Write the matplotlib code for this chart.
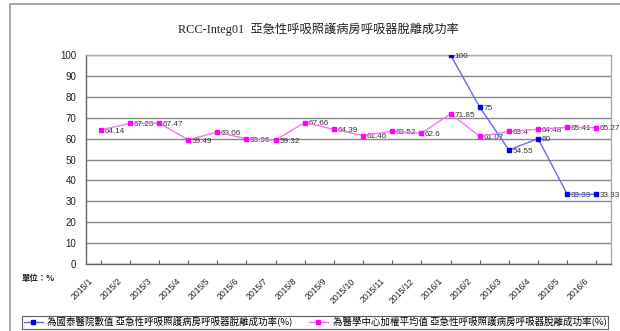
import matplotlib
matplotlib.use("Agg")
import matplotlib.pyplot as plt
import matplotlib.transforms as mtransforms
from matplotlib.patches import Rectangle
import numpy as np

plt.rcParams['font.family'] = ['Liberation Sans', 'Noto Sans CJK TC']

categories = ["2015/1", "2015/2", "2015/3", "2015/4", "2015/5", "2015/6", "2015/7",
              "2015/8", "2015/9", "2015/10", "2015/11", "2015/12", "2016/1", "2016/2",
              "2016/3", "2016/4", "2016/5", "2016/6"]
hospital = [None] * 12 + [100, 75, 54.55, 60, 33.33, 33.33]
center_avg = [64.14, 67.23, 67.47, 59.49, 63.06, 59.96, 59.32, 67.66, 64.39, 61.46,
              63.52, 62.6, 71.85, 61.07, 63.4, 64.48, 65.41, 65.27]
hospital_label = "為國泰醫院數值 亞急性呼吸照護病房呼吸器脫離成功率(%)"
center_label = "為醫學中心加權平均值 亞急性呼吸照護病房呼吸器脫離成功率(%)"
title = "RCC-Integ01  亞急性呼吸照護病房呼吸器脫離成功率"
yticks = [0, 10, 20, 30, 40, 50, 60, 70, 80, 90, 100]

W, H = 620, 331
fig = plt.figure(figsize=(W / 100, H / 100), dpi=100)
fig.patch.set_facecolor('white')

# outer frame
fig.patches.append(Rectangle((10 / W, -0.05), 611 / W, 1.05 - 4 / H, transform=fig.transFigure,
                             fill=False, edgecolor='#9a9a9a', linewidth=1.2, clip_on=False))

ax = fig.add_axes([86 / W, 1 - 264 / H, (611 - 86) / W, (264 - 55) / H])
x = np.arange(len(categories))

h_x = [i for i, v in enumerate(hospital) if v is not None]
h_y = [v for v in hospital if v is not None]

ax.plot(h_x, h_y, color='#6a6af0', linewidth=1.0, marker='s', markersize=3.2,
        markerfacecolor='#0000ee', markeredgecolor='#0000ee', label=hospital_label, zorder=5)
ax.plot(x, center_avg, color='#f07af0', linewidth=1.0, marker='s', markersize=3.2,
        markerfacecolor='#ff00ff', markeredgecolor='#ff00ff', label=center_label, zorder=5)

def fmt(v):
    return f"{v:.2f}".rstrip('0').rstrip('.')

for xi, v in zip(h_x, h_y):
    ax.annotate(fmt(v), (xi, v), xytext=(2.6, -1), textcoords='offset points',
                ha='left', va='center', fontsize=5.9, color='#333333', zorder=4)
for xi, v in zip(x, center_avg):
    ax.annotate(fmt(v), (xi, v), xytext=(2.6, -1), textcoords='offset points',
                ha='left', va='center', fontsize=5.9, color='#333333', zorder=4)

ax.set_xlim(-0.5, len(categories) - 0.5)
ax.set_ylim(0, 100)
ax.set_yticks(yticks)
ax.set_yticklabels([str(t) for t in yticks], fontsize=7, color='#222222')
ax.yaxis.grid(True, color='#888888', linewidth=1.0)
ax.set_axisbelow(True)
ax.tick_params(axis='y', length=0, pad=7)
ax.set_xticks(x)
ax.set_xticklabels(categories, rotation=45, ha='right', va='top', rotation_mode='anchor',
                   fontsize=6.2, color='#222222')
ax.tick_params(axis='x', direction='in', length=3, color='#666666', pad=9)
offset = mtransforms.ScaledTranslation(-12 / 100, 0, fig.dpi_scale_trans)
for lab in ax.get_xticklabels():
    lab.set_transform(lab.get_transform() + offset)

for side in ['top', 'right']:
    ax.spines[side].set_color('#aaaaaa')
    ax.spines[side].set_linewidth(1.0)
for side in ['left', 'bottom']:
    ax.spines[side].set_color('#666666')
    ax.spines[side].set_linewidth(1.0)

fig.text(318 / W, 1 - 29 / H, title, ha='center', va='center', fontsize=8.8,
         family=['Liberation Serif', 'Noto Sans CJK TC'], color='#222222')
fig.text(22 / W, 1 - 279 / H, "單位：%", ha='left', va='center', fontsize=6,
         family=['Noto Sans CJK TC', 'DejaVu Sans'], color='#222222', weight='bold')

leg = fig.legend(loc='center', bbox_to_anchor=(17 / W, 1 - 330 / H, (613 - 17) / W, 15 / H),
                 mode='expand', ncol=2, frameon=True, fancybox=False,
                 edgecolor='#333333', handlelength=2.0, handletextpad=0.5, borderpad=0.2,
                 columnspacing=0.8, prop={'family': ['Noto Sans CJK TC', 'DejaVu Sans'], 'size': 6.8})
leg.get_frame().set_linewidth(0.8)

fig.savefig("out.png", dpi=100, facecolor='white')
